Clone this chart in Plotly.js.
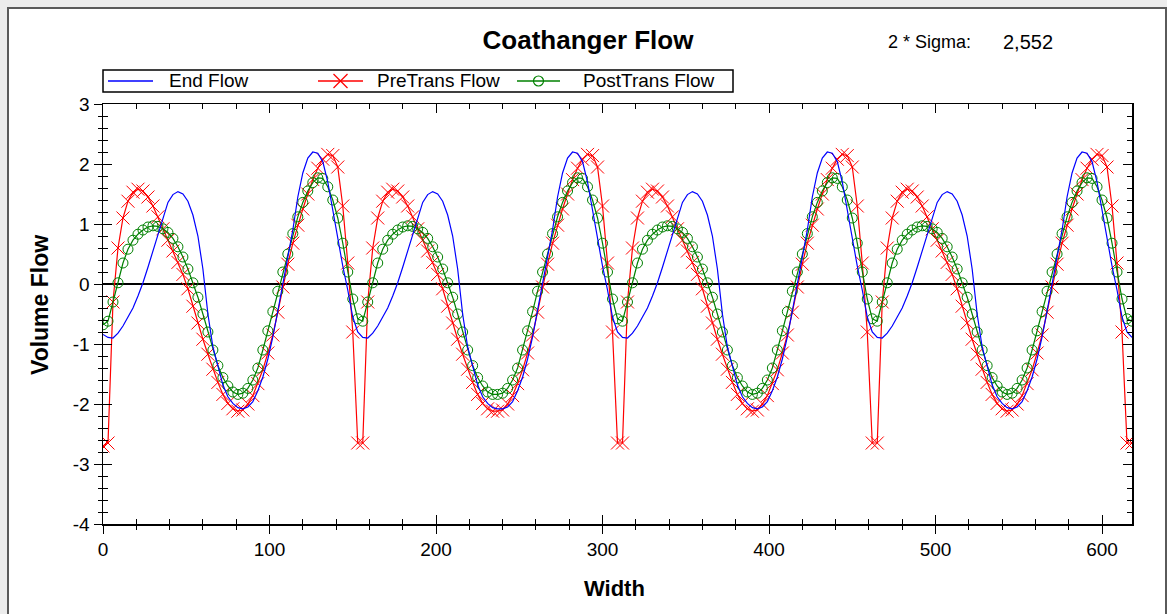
<!DOCTYPE html>
<html>
<head>
<meta charset="utf-8">
<script src="https://cdn.plot.ly/plotly-3.0.1.min.js"></script>
<style>
  html, body { margin:0; padding:0; background:#ececec; width:1167px; height:614px; overflow:hidden; }
  #frame { position:absolute; left:7px; top:7px; width:1156px; height:620px; background:#ffffff;
           border-left:2px solid #5a5a5a; border-top:2px solid #5a5a5a; border-right:2px solid #5a5a5a; }
  #chart { position:absolute; left:0; top:0; width:1167px; height:614px; }
</style>
</head>
<body>
<div id="frame"></div>
<div id="chart"></div>
<script>
// Width positions across the die (x values)
const width = [
  0,3,6,9,12,15,18,21,24,27,30,33,36,39,42,45,48,51,54,57,60,63,66,69,72,75,78,81,84,87,90,93,96,99,
  102,105,108,111,114,117,120,123,126,129,132,135,138,141,144,147,150,153,156,159,162,165,168,171,174,177,180,183,186,189,192,195,198,201,
  204,207,210,213,216,219,222,225,228,231,234,237,240,243,246,249,252,255,258,261,264,267,270,273,276,279,282,285,288,291,294,297,300,303,
  306,309,312,315,318,321,324,327,330,333,336,339,342,345,348,351,354,357,360,363,366,369,372,375,378,381,384,387,390,393,396,399,402,405,
  408,411,414,417,420,423,426,429,432,435,438,441,444,447,450,453,456,459,462,465,468,471,474,477,480,483,486,489,492,495,498,501,504,507,
  510,513,516,519,522,525,528,531,534,537,540,543,546,549,552,555,558,561,564,567,570,573,576,579,582,585,588,591,594,597,600,603,606,609,
  612,615,618
];

// End Flow (blue line)
const endFlow = [
  -0.84,
  -0.89,-0.9,-0.82,-0.7,-0.56,-0.4,-0.2,0.02,0.28,0.55,0.82,1.12,1.36,1.49,1.54,1.5,1.38,1.15,0.8,0.25,-0.5,-1.05,-1.38,-1.68,-1.88,-1.99,-2.06,
  -2.08,-2.05,-1.96,-1.78,-1.55,-1.25,-0.88,-0.45,0.0,0.42,0.9,1.45,1.85,2.1,2.2,2.18,2.04,1.7,1.22,0.72,0.3,-0.1,-0.55,-0.8,
  -0.89,-0.9,-0.82,-0.7,-0.56,-0.4,-0.2,0.02,0.28,0.55,0.82,1.12,1.36,1.49,1.54,1.5,1.38,1.15,0.8,0.25,-0.5,-1.05,-1.38,-1.68,-1.88,-1.99,-2.06,
  -2.08,-2.08,-2.05,-1.96,-1.78,-1.55,-1.25,-0.88,-0.45,0.0,0.42,0.9,1.45,1.85,2.1,2.2,2.18,2.04,1.7,1.22,0.72,0.3,-0.1,-0.55,-0.8,
  -0.89,-0.9,-0.82,-0.7,-0.56,-0.4,-0.2,0.02,0.28,0.55,0.82,1.12,1.36,1.49,1.54,1.5,1.38,1.15,0.8,0.25,-0.5,-1.05,-1.38,-1.68,-1.88,-1.99,-2.06,
  -2.08,-2.05,-1.96,-1.78,-1.55,-1.25,-0.88,-0.45,0.0,0.42,0.9,1.45,1.85,2.1,2.2,2.18,2.04,1.7,1.22,0.72,0.3,-0.1,-0.55,-0.8,
  -0.89,-0.9,-0.82,-0.7,-0.56,-0.4,-0.2,0.02,0.28,0.55,0.82,1.12,1.36,1.49,1.54,1.5,1.38,1.15,0.8,0.25,-0.5,-1.05,-1.38,-1.68,-1.88,-1.99,-2.06,
  -2.08,-2.05,-1.96,-1.78,-1.55,-1.25,-0.88,-0.45,0.0,0.42,0.9,1.45,1.85,2.1,2.2,2.18,2.04,1.7,1.22,0.72,0.3,-0.1,-0.55,-0.8,
  -0.89
];

// PreTrans Flow (red, x markers)
const preTransFlow = [
  -2.7,
  -2.65,-0.3,0.6,1.1,1.38,1.53,1.58,1.55,1.45,1.3,1.12,0.92,0.73,0.55,0.36,0.16,-0.08,-0.37,-0.65,-0.92,-1.17,-1.42,-1.64,-1.84,-1.99,-2.08,-2.12,
  -2.1,-2.0,-1.86,-1.66,-1.43,-1.15,-0.85,-0.47,-0.05,0.33,0.68,0.98,1.25,1.5,1.74,1.93,2.08,2.16,2.14,1.95,1.3,0.35,-0.8,-2.65,
  -2.65,-0.3,0.6,1.1,1.38,1.53,1.58,1.55,1.45,1.3,1.12,0.92,0.73,0.55,0.36,0.16,-0.08,-0.37,-0.65,-0.92,-1.17,-1.42,-1.64,-1.84,-1.99,-2.08,-2.12,
  -2.12,-2.1,-2.0,-1.86,-1.66,-1.43,-1.15,-0.85,-0.47,-0.05,0.33,0.68,0.98,1.25,1.5,1.74,1.93,2.08,2.16,2.14,1.95,1.3,0.35,-0.8,-2.65,
  -2.65,-0.3,0.6,1.1,1.38,1.53,1.58,1.55,1.45,1.3,1.12,0.92,0.73,0.55,0.36,0.16,-0.08,-0.37,-0.65,-0.92,-1.17,-1.42,-1.64,-1.84,-1.99,-2.08,-2.12,
  -2.1,-2.0,-1.86,-1.66,-1.43,-1.15,-0.85,-0.47,-0.05,0.33,0.68,0.98,1.25,1.5,1.74,1.93,2.08,2.16,2.14,1.95,1.3,0.35,-0.8,-2.65,
  -2.65,-0.3,0.6,1.1,1.38,1.53,1.58,1.55,1.45,1.3,1.12,0.92,0.73,0.55,0.36,0.16,-0.08,-0.37,-0.65,-0.92,-1.17,-1.42,-1.64,-1.84,-1.99,-2.08,-2.12,
  -2.1,-2.0,-1.86,-1.66,-1.43,-1.15,-0.85,-0.47,-0.05,0.33,0.68,0.98,1.25,1.5,1.74,1.93,2.08,2.16,2.14,1.95,1.3,0.35,-0.8,-2.65,
  -2.65
];

// PostTrans Flow (green, circle markers)
const postTransFlow = [
  -0.68,
  -0.62,-0.3,0.02,0.35,0.58,0.73,0.83,0.9,0.95,0.97,0.96,0.92,0.86,0.76,0.62,0.45,0.25,0.02,-0.22,-0.5,-0.8,-1.1,-1.36,-1.56,-1.7,-1.8,-1.84,
  -1.82,-1.74,-1.6,-1.4,-1.1,-0.78,-0.46,-0.12,0.2,0.5,0.84,1.12,1.36,1.55,1.69,1.77,1.76,1.62,1.4,1.1,0.68,0.2,-0.25,-0.58,
  -0.62,-0.3,0.02,0.35,0.58,0.73,0.83,0.9,0.95,0.97,0.96,0.92,0.86,0.76,0.62,0.45,0.25,0.02,-0.22,-0.5,-0.8,-1.1,-1.36,-1.56,-1.7,-1.8,-1.84,
  -1.84,-1.82,-1.74,-1.6,-1.4,-1.1,-0.78,-0.46,-0.12,0.2,0.5,0.84,1.12,1.36,1.55,1.69,1.77,1.76,1.62,1.4,1.1,0.68,0.2,-0.25,-0.58,
  -0.62,-0.3,0.02,0.35,0.58,0.73,0.83,0.9,0.95,0.97,0.96,0.92,0.86,0.76,0.62,0.45,0.25,0.02,-0.22,-0.5,-0.8,-1.1,-1.36,-1.56,-1.7,-1.8,-1.84,
  -1.82,-1.74,-1.6,-1.4,-1.1,-0.78,-0.46,-0.12,0.2,0.5,0.84,1.12,1.36,1.55,1.69,1.77,1.76,1.62,1.4,1.1,0.68,0.2,-0.25,-0.58,
  -0.62,-0.3,0.02,0.35,0.58,0.73,0.83,0.9,0.95,0.97,0.96,0.92,0.86,0.76,0.62,0.45,0.25,0.02,-0.22,-0.5,-0.8,-1.1,-1.36,-1.56,-1.7,-1.8,-1.84,
  -1.82,-1.74,-1.6,-1.4,-1.1,-0.78,-0.46,-0.12,0.2,0.5,0.84,1.12,1.36,1.55,1.69,1.77,1.76,1.62,1.4,1.1,0.68,0.2,-0.25,-0.58,
  -0.62
];

const seriesNames = ["End Flow", "PreTrans Flow", "PostTrans Flow"];
const xTickVals = [0, 100, 200, 300, 400, 500, 600];
const xTickText = ["0", "100", "200", "300", "400", "500", "600"];
const yTickVals = [-4, -3, -2, -1, 0, 1, 2, 3];
const yTickText = ["-4", "-3", "-2", "-1", "0", "1", "2", "3"];
const chartTitle = "Coathanger Flow";
const sigmaLabel = "2 * Sigma:";
const sigmaValue = "2,552";

const FONT = "Liberation Sans, Arial, Helvetica, sans-serif";
const RED = "#ff0000", GREEN = "#008000", BLUE = "#0000ff";

const traces = [
  {
    x: width, y: preTransFlow, name: seriesNames[1], type: "scatter", mode: "lines+markers",
    line: { color: RED, width: 1.2 },
    marker: { symbol: "x-thin", size: 13, color: RED, line: { color: RED, width: 1 } },
    showlegend: false
  },
  {
    x: width, y: postTransFlow, name: seriesNames[2], type: "scatter", mode: "lines+markers",
    line: { color: GREEN, width: 1.2 },
    marker: { symbol: "circle-open", size: 10, color: GREEN, line: { color: GREEN, width: 1 } },
    showlegend: false
  },
  {
    x: width, y: endFlow, name: seriesNames[0], type: "scatter", mode: "lines",
    line: { color: BLUE, width: 1.2 },
    showlegend: false
  },
  { x: [], y: [], xaxis: "x2", yaxis: "y2", showlegend: false, hoverinfo: "skip", type: "scatter", mode: "lines" }
];

// pixel -> paper helpers for the framed legend (plot area: x 103..1132, y 104..524)
const PX = p => (p - 103) / 1029;
const PY = p => (524 - p) / 420;
const legY = PY(81);

const shapes = [
  { type: "rect", xref: "paper", yref: "paper", x0: PX(103), x1: PX(733), y0: PY(92), y1: PY(70),
    line: { color: "#000", width: 1.5 }, fillcolor: "#fff", layer: "above" },
  // End Flow key
  { type: "line", xref: "paper", yref: "paper", x0: PX(108), x1: PX(153), y0: legY, y1: legY, line: { color: BLUE, width: 1.3 } },
  // PreTrans Flow key
  { type: "line", xref: "paper", yref: "paper", x0: PX(318), x1: PX(363), y0: legY, y1: legY, line: { color: RED, width: 1.3 } },
  { type: "line", xref: "paper", yref: "paper", x0: PX(333.5), x1: PX(347.5), y0: PY(74), y1: PY(88), line: { color: RED, width: 1.2 } },
  { type: "line", xref: "paper", yref: "paper", x0: PX(333.5), x1: PX(347.5), y0: PY(88), y1: PY(74), line: { color: RED, width: 1.2 } },
  // PostTrans Flow key
  { type: "line", xref: "paper", yref: "paper", x0: PX(517), x1: PX(560), y0: legY, y1: legY, line: { color: GREEN, width: 1.3 } },
  { type: "circle", xref: "paper", yref: "paper", x0: PX(533.5), x1: PX(543.5), y0: PY(86), y1: PY(76),
    line: { color: GREEN, width: 1.2 }, fillcolor: "rgba(0,0,0,0)" }
];

const axCommon = { showgrid: false, zeroline: false, linecolor: "#000", tickcolor: "#000", tickwidth: 1 };

const layout = {
  width: 1167, height: 614,
  margin: { l: 103, r: 35, t: 104, b: 90, pad: 0 },
  paper_bgcolor: "rgba(0,0,0,0)",
  plot_bgcolor: "#ffffff",
  font: { family: FONT, color: "#000", size: 16 },
  title: {
    text: "<b>" + chartTitle + "</b>",
    font: { family: FONT, size: 26, color: "#000" },
    xref: "container", x: 588 / 1167, xanchor: "center",
    yref: "container", y: 1 - 40 / 614, yanchor: "middle"
  },
  showlegend: false,
  xaxis: Object.assign({}, axCommon, {
    range: [0, 618], tickmode: "array", tickvals: xTickVals, ticktext: xTickText,
    ticks: "outside", ticklen: 8, showline: true, linewidth: 1.5, mirror: false,
    minor: { dtick: 20, tick0: 0, ticks: "outside", ticklen: 4, tickcolor: "#000" },
    tickfont: { family: FONT, size: 19, color: "#000" }
  }),
  yaxis: Object.assign({}, axCommon, {
    range: [-4, 3], tickmode: "array", tickvals: yTickVals, ticktext: yTickText,
    ticks: "outside", ticklen: 8, showline: true, linewidth: 1.5, mirror: false,
    minor: { dtick: 0.2, tick0: 0, ticks: "outside", ticklen: 4, tickcolor: "#000" },
    zeroline: true, zerolinecolor: "#000", zerolinewidth: 1.5,
    tickfont: { family: FONT, size: 19, color: "#000" }
  }),
  xaxis2: Object.assign({}, axCommon, {
    overlaying: "x", anchor: "y2", side: "bottom", range: [0, 618],
    tickmode: "array", tickvals: xTickVals, showticklabels: false,
    ticks: "inside", ticklen: 9, showline: true, linewidth: 1.5, mirror: "ticks",
    minor: { dtick: 20, tick0: 0, ticks: "inside", ticklen: 5, tickcolor: "#000" }
  }),
  yaxis2: Object.assign({}, axCommon, {
    overlaying: "y", anchor: "x2", side: "left", range: [-4, 3],
    tickmode: "array", tickvals: yTickVals, showticklabels: false,
    ticks: "inside", ticklen: 9, showline: true, linewidth: 1.5, mirror: "ticks",
    minor: { dtick: 0.2, tick0: 0, ticks: "inside", ticklen: 5, tickcolor: "#000" }
  }),
  shapes: shapes,
  annotations: [
    { text: "<b>Volume Flow</b>", xref: "paper", yref: "paper", x: PX(40), y: PY(305),
      xanchor: "center", yanchor: "middle", textangle: -90, showarrow: false,
      font: { family: FONT, size: 23, color: "#000" } },
    { text: "<b>Width</b>", xref: "paper", yref: "paper", x: PX(614), y: PY(588),
      xanchor: "center", yanchor: "middle", showarrow: false,
      font: { family: FONT, size: 22, color: "#000" } },
    { text: sigmaLabel, xref: "paper", yref: "paper", x: PX(886), y: PY(42),
      xanchor: "left", yanchor: "middle", showarrow: false,
      font: { family: FONT, size: 18, color: "#000" } },
    { text: sigmaValue, xref: "paper", yref: "paper", x: PX(1001), y: PY(42),
      xanchor: "left", yanchor: "middle", showarrow: false,
      font: { family: FONT, size: 20, color: "#000" } },
    { text: seriesNames[0], xref: "paper", yref: "paper", x: PX(167), y: legY,
      xanchor: "left", yanchor: "middle", showarrow: false,
      font: { family: FONT, size: 19, color: "#000" } },
    { text: seriesNames[1], xref: "paper", yref: "paper", x: PX(375), y: legY,
      xanchor: "left", yanchor: "middle", showarrow: false,
      font: { family: FONT, size: 19, color: "#000" } },
    { text: seriesNames[2], xref: "paper", yref: "paper", x: PX(581), y: legY,
      xanchor: "left", yanchor: "middle", showarrow: false,
      font: { family: FONT, size: 19, color: "#000" } }
  ]
};

Plotly.newPlot("chart", traces, layout, { staticPlot: true, displayModeBar: false });
</script>
</body>
</html>
